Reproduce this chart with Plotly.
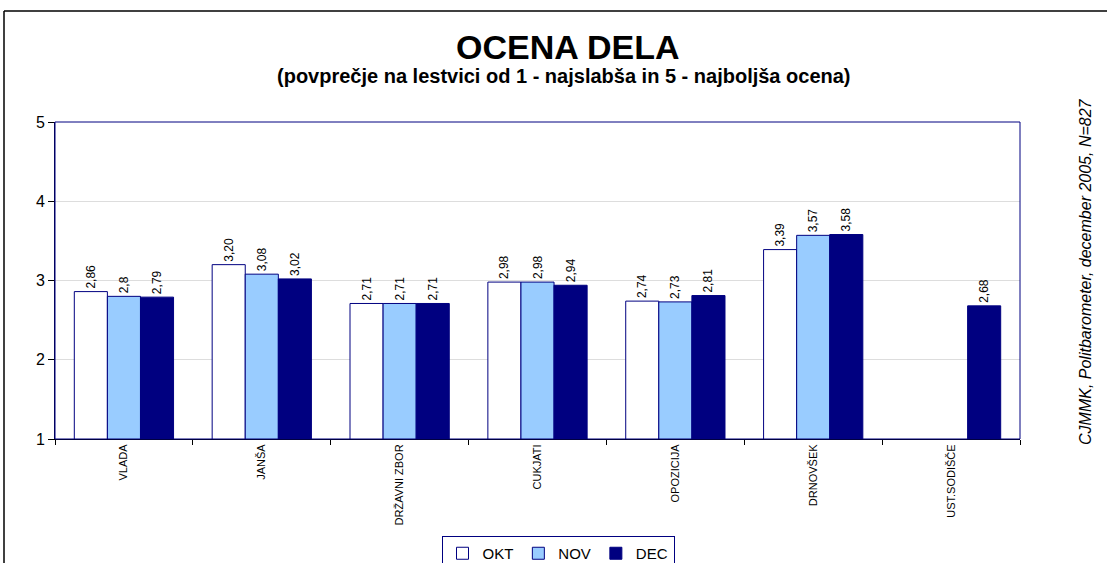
import plotly.graph_objects as go

categories = ["VLADA", "JANŠA", "DRŽAVNI ZBOR", "CUKJATI", "OPOZICIJA", "DRNOVŠEK", "UST.SODIŠČE"]
okt = [2.86, 3.20, 2.71, 2.98, 2.74, 3.39, None]
nov = [2.80, 3.08, 2.71, 2.98, 2.73, 3.57, None]
dec = [2.79, 3.02, 2.71, 2.94, 2.81, 3.58, 2.68]
okt_labels = ["2,86", "3,20", "2,71", "2,98", "2,74", "3,39", ""]
nov_labels = ["2,8", "3,08", "2,71", "2,98", "2,73", "3,57", ""]
dec_labels = ["2,79", "3,02", "2,71", "2,94", "2,81", "3,58", "2,68"]

W, H = 1107, 563
L, R, T, B = 55, 1020, 122, 439
pw, ph = R - L, B - T

def px(x):
    return (x - L) / pw

def py(y):
    return (B - y) / ph

FONT = "Liberation Sans, Arial, sans-serif"
NAVY = "#000080"

fig = go.Figure()
for name, vals, labels, fill in [
    ("OKT", okt, okt_labels, "#FFFFFF"),
    ("NOV", nov, nov_labels, "#99CCFF"),
    ("DEC", dec, dec_labels, NAVY),
]:
    fig.add_trace(go.Bar(
        name=name, x=categories, y=vals, text=labels,
        textposition="outside", textangle=-90,
        textfont=dict(family=FONT, size=12, color="black"),
        marker=dict(color=fill, line=dict(color=NAVY, width=1)),
        cliponaxis=False,
    ))

fig.update_layout(
    width=W, height=H,
    margin=dict(l=L, r=W - R, t=T, b=H - B, autoexpand=False),
    paper_bgcolor="white", plot_bgcolor="white",
    barmode="group", bargap=0.28, bargroupgap=0,
    font=dict(family=FONT, color="black"),
    showlegend=True,
    legend=dict(
        orientation="h", x=px(558), y=py(536), xanchor="center", yanchor="top",
        bordercolor=NAVY, borderwidth=1, font=dict(size=15, family=FONT),
        itemwidth=30, tracegroupgap=0,
    ),
    xaxis=dict(
        tickangle=-90, tickfont=dict(size=11, family=FONT),
        tickson="boundaries", ticks="outside", ticklen=5, tickcolor="black",
        showline=True, linecolor="black", linewidth=1, mirror=False,
        showgrid=False,
    ),
    yaxis=dict(
        range=[1, 5], tickvals=[1, 2, 3, 4, 5], ticks="outside", ticklen=6,
        tickcolor="black", tickfont=dict(size=16, family=FONT),
        showline=True, linecolor="#000040", linewidth=1,
        showgrid=True, gridcolor="#DDDDDD", gridwidth=1, zeroline=False,
    ),
    annotations=[
        dict(text="<b>OCENA DELA</b>", x=px(568), y=py(47), xref="paper", yref="paper",
             showarrow=False, font=dict(size=34, family=FONT), xanchor="center", yanchor="middle"),
        dict(text="<b>(povprečje na lestvici od 1 - najslabša in 5 - najboljša ocena)</b>",
             x=px(564), y=py(76), xref="paper", yref="paper", showarrow=False,
             font=dict(size=20, family=FONT), xanchor="center", yanchor="middle"),
        dict(text="<i>CJMMK, Politbarometer, december 2005, N=827</i>",
             x=px(1085), y=py(272), xref="paper", yref="paper", showarrow=False,
             textangle=-90, font=dict(size=16, family=FONT), xanchor="center", yanchor="middle"),
    ],
    shapes=[
        dict(type="rect", xref="paper", yref="paper", x0=px(L), x1=px(R), y0=py(B), y1=py(T),
             line=dict(color=NAVY, width=1), layer="above"),
        dict(type="line", xref="paper", yref="paper", x0=px(4), x1=px(4), y0=py(11), y1=py(570),
             line=dict(color="black", width=1.5)),
        dict(type="line", xref="paper", yref="paper", x0=px(4), x1=px(1110), y0=py(11), y1=py(11),
             line=dict(color="black", width=1.5)),
    ],
)

fig.write_html("out.html", config={"displayModeBar": False},
               post_script="document.body.style.margin='0';document.body.style.overflow='hidden';")
